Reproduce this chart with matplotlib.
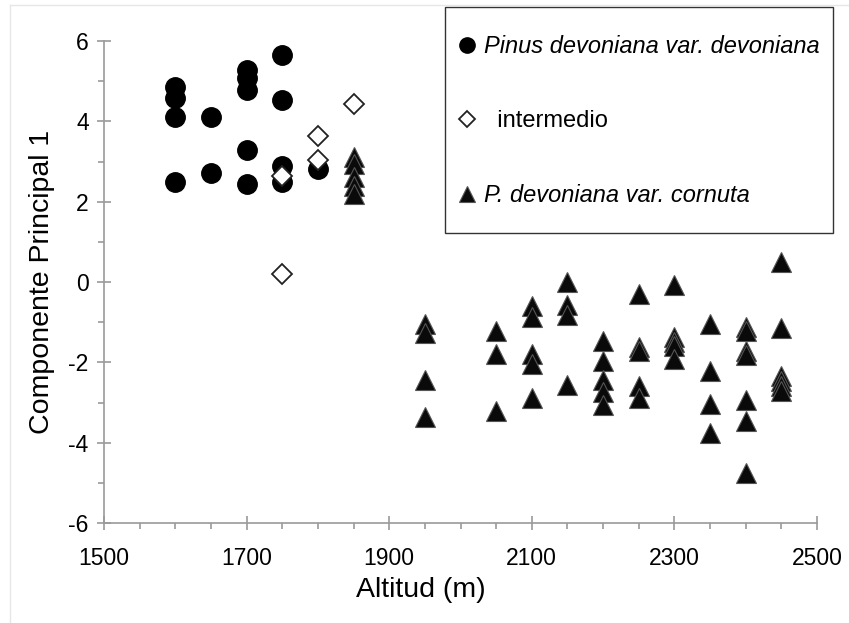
import matplotlib
matplotlib.use("Agg")
from matplotlib import pyplot as plt
from matplotlib.lines import Line2D
from matplotlib.patches import Rectangle

plt.rcParams['font.family'] = ['Liberation Sans', 'DejaVu Sans']
plt.rcParams['axes.unicode_minus'] = False

# Pinus devoniana var. devoniana
dev_x = [1600, 1600, 1600, 1600, 1650, 1650, 1700, 1700, 1700, 1700, 1700,
         1750, 1750, 1750, 1750, 1800]
dev_y = [4.85, 4.58, 4.10, 2.50, 4.12, 2.71, 5.29, 5.08, 4.79, 3.29, 2.44,
         5.64, 4.54, 2.90, 2.48, 2.82]

# intermedio
int_x = [1750, 1750, 1800, 1800, 1850]
int_y = [2.65, 0.20, 3.64, 3.04, 4.44]

# P. devoniana var. cornuta
cor_x = [1850] * 5 + [1950] * 4 + [2050] * 3 + [2100] * 5 + [2150] * 4 + \
        [2200] * 5 + [2250] * 5 + [2300] * 5 + [2350] * 4 + [2400] * 7 + [2450] * 6
cor_y = [3.12, 2.95, 2.62, 2.40, 2.19,
         -1.05, -1.28, -2.43, -3.35,
         -1.22, -1.80, -3.20,
         -0.60, -0.87, -1.80, -2.03, -2.90,
         0.00, -0.58, -0.83, -2.57,
         -1.47, -1.97, -2.45, -2.75, -3.05,
         -0.30, -1.62, -1.72, -2.60, -2.88,
         -0.08, -1.38, -1.50, -1.60, -1.92,
         -1.05, -2.22, -3.03, -3.75,
         -1.13, -1.21, -1.71, -1.82, -2.94, -3.45, -4.75,
         0.50, -1.15, -2.33, -2.46, -2.58, -2.71]

labels = ['Pinus devoniana var. devoniana', '  intermedio', 'P. devoniana var. cornuta']

xticks = [1500, 1700, 1900, 2100, 2300, 2500]
xminor = list(range(1500, 2501, 50))
yticks = [-6, -4, -2, 0, 2, 4, 6]
yminor = [-5, -3, -1, 1, 3, 5]

fig = plt.figure(figsize=(8.49, 6.23), dpi=100)
ax = fig.add_axes([104 / 849, 1 - 523 / 623, (817 - 104) / 849, (523 - 41) / 623])

ax.plot(cor_x, cor_y, ls='none', marker='^', ms=15, mfc='#0a0a0a', mec='#555555',
        mew=0.8, clip_on=False, zorder=3)
ax.plot(dev_x, dev_y, ls='none', marker='o', ms=14, mfc='black', mec='black',
        clip_on=False, zorder=4)
ax.plot(int_x, int_y, ls='none', marker='D', ms=10.5, mfc='white', mec='#222222',
        mew=1.3, clip_on=False, zorder=5)

ax.set_xlim(1500, 2500)
ax.set_ylim(-6, 6)
ax.set_xticks(xticks)
ax.set_xticks(xminor, minor=True)
ax.set_yticks(yticks)
ax.set_yticks(yminor, minor=True)

for s in ['top', 'right']:
    ax.spines[s].set_visible(False)
for s in ['left', 'bottom']:
    ax.spines[s].set_color('#9a9a9a')
    ax.spines[s].set_linewidth(1.2)

ax.tick_params(which='major', direction='inout', length=10, width=1.2, color='#9a9a9a',
               labelsize=16.5)
ax.tick_params(which='minor', direction='out', length=4, width=1.2, color='#9a9a9a')
ax.tick_params(axis='x', which='major', pad=12)
ax.tick_params(axis='y', which='major', pad=6)

ax.set_xlabel('Altitud (m)', fontsize=20.5, va='center')
ax.xaxis.set_label_coords(0.445, -0.139)
ax.set_ylabel('Componente Principal 1', fontsize=20.5, va='center')
ax.yaxis.set_label_coords(-0.087, 0.5)

# legend box
fig.add_artist(Rectangle((445 / 849, 1 - 233 / 623), (833 - 445) / 849, (233 - 7) / 623,
                         transform=fig.transFigure, fill=False, ec='#333333', lw=1.0))
handles = [
    Line2D([], [], ls='none', marker='o', ms=11, mfc='black', mec='black'),
    Line2D([], [], ls='none', marker='D', ms=8, mfc='white', mec='#222222', mew=1.3),
    Line2D([], [], ls='none', marker='^', ms=12, mfc='#0a0a0a', mec='#555555', mew=0.8),
]
leg = ax.legend(handles, labels, loc='upper left', bbox_to_anchor=(458 / 849, 1 - 35 / 623),
                bbox_transform=fig.transFigure, frameon=False,
                fontsize=17, labelspacing=2.2, borderpad=0, handlelength=0.8,
                handletextpad=0.3, borderaxespad=0)
texts = leg.get_texts()
texts[0].set_style('italic')
texts[2].set_style('italic')

# faint frame of the original image
fig.add_artist(Line2D([10 / 849, 10 / 849], [0, 1 - 5 / 623], color='#e6e6e6', lw=1))
fig.add_artist(Line2D([10 / 849, 1], [1 - 5 / 623, 1 - 5 / 623], color='#e6e6e6', lw=1))

fig.savefig('out.png', dpi=100)
